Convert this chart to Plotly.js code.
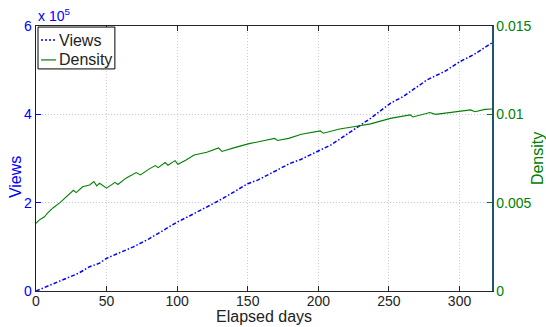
<!DOCTYPE html>
<html>
<head>
<meta charset="utf-8">
<script src="https://cdn.plot.ly/plotly-3.0.1.min.js"></script>
<style>html,body{margin:0;padding:0;background:#fff;}#chart{width:546px;height:327px;}</style>
</head>
<body>
<div id="chart"></div>
<script>
// Views series (elapsed day, views)
const viewDays = [0,10,20,30,38,45,50,60,69,80,90,100,110,120,128,140,150,157,170,180,187,200,209,218,225,230,237,245,251,260,270,277,290,300,310,323];
const viewValues = [0,13000,27000,40000,55000,63000,74000,87000,100000,118000,138000,156000,172000,188000,202000,224000,243000,251000,272000,289000,297000,317000,331000,350000,366000,376000,391000,410000,425000,440000,462000,478000,498000,519000,535000,562000];
// Density series (elapsed day, density)
const densDays = [0,2,4,6,8,12,17,22,26.5,28.5,33,38,41,43,45,50,56,58,64,71,74,80,84.5,86.5,91.5,93.5,98.5,100.5,106,112,121,129.3,131.7,140,151,161,169,171,179,188,201.4,203.5,215,225,230,237,251,259,265,267,279,283,292,300.7,307.8,311,318,323];
const densValues = [0.00383,0.0040,0.0041,0.0042,0.0044,0.0047,0.0050,0.0054,0.0057,0.00557,0.0059,0.0060,0.0062,0.00595,0.0061,0.00582,0.00615,0.00603,0.0064,0.0067,0.00657,0.0069,0.0071,0.00698,0.00727,0.00712,0.00738,0.00717,0.0074,0.0077,0.00785,0.0081,0.0079,0.0081,0.00834,0.0085,0.00864,0.00852,0.00864,0.00887,0.00906,0.00893,0.00917,0.0093,0.00936,0.00946,0.00977,0.0099,0.00997,0.00985,0.0101,0.0100,0.0101,0.01016,0.01025,0.01015,0.01028,0.0103];
const xTicks = [0,50,100,150,200,250,300];
const yTicks = [0,200000,400000,600000];
const yTickText = ['0','2','4','6'];
const y2Ticks = [0,0.005,0.01,0.015];
const y2TickText = ['0','0.005','0.01','0.015'];
const seriesNames = ['Views', 'Density'];

const FONT = 'Liberation Sans, Arial, Helvetica, sans-serif';
const VIEW_DASH = '4px,2px,1.5px,2px';
const traces = [
  {x: viewDays, y: viewValues, name: seriesNames[0], type: 'scatter', mode: 'lines',
   line: {color: '#0000ff', width: 1.5, dash: VIEW_DASH}, yaxis: 'y'},
  {x: densDays, y: densValues, name: seriesNames[1], type: 'scatter', mode: 'lines',
   line: {color: '#008000', width: 1.1}, yaxis: 'y2'}
];
// custom legend box (paper coordinates)
const legendShapes = [
  {type: 'rect', xref: 'paper', yref: 'paper', x0: 0.0044, x1: 0.173, y0: 0.838, y1: 0.996,
   fillcolor: '#ffffff', line: {color: '#000', width: 1}, layer: 'above'},
  {type: 'line', xref: 'paper', yref: 'paper', x0: 0.011, x1: 0.044, y0: 0.947, y1: 0.947,
   line: {color: '#0000ff', width: 1.5, dash: '2px,2px'}, layer: 'above'},
  {type: 'line', xref: 'paper', yref: 'paper', x0: 0.011, x1: 0.044, y0: 0.872, y1: 0.872,
   line: {color: '#008000', width: 1.2}, layer: 'above'}
];
const layout = {
  width: 546, height: 327,
  margin: {l: 36, r: 54, t: 26, b: 36, pad: 0},
  paper_bgcolor: '#ffffff', plot_bgcolor: '#ffffff',
  font: {family: FONT, size: 14, color: '#000'},
  showlegend: false,
  xaxis: {range: [0, 323], tickvals: xTicks, ticks: 'inside', ticklen: 5, tickcolor: '#222',
    showline: true, linecolor: '#262626', linewidth: 1, mirror: 'ticks', ticklabelstandoff: -3,
    showgrid: true, gridcolor: '#cfcfcf', griddash: '1px,2px', gridwidth: 1,
    zeroline: false, tickfont: {size: 14, color: '#222'}},
  yaxis: {range: [0, 600000], tickvals: yTicks, ticktext: yTickText, ticks: 'inside', ticklen: 5,
    tickcolor: '#0000ff', showline: true, linecolor: '#0000ff', linewidth: 1.5,
    showgrid: true, gridcolor: '#c4c4fa', griddash: '1px,2px', zeroline: false,
    tickfont: {size: 14, color: '#0000ff'}},
  yaxis2: {range: [0, 0.015], tickvals: y2Ticks, ticktext: y2TickText, overlaying: 'y', side: 'right',
    ticks: 'inside', ticklen: 5, tickcolor: '#008000', showline: true, linecolor: '#1d5570', linewidth: 1.5,
    showgrid: false, zeroline: false, tickfont: {size: 14, color: '#008000'}},
  shapes: legendShapes,
  annotations: [
    {text: seriesNames[0], xref: 'paper', yref: 'paper', x: 0.046, y: 0.947, xanchor: 'left', yanchor: 'middle',
     showarrow: false, font: {size: 16, color: '#222'}},
    {text: seriesNames[1], xref: 'paper', yref: 'paper', x: 0.046, y: 0.872, xanchor: 'left', yanchor: 'middle',
     showarrow: false, font: {size: 16, color: '#222'}},
    {text: 'Views', xref: 'paper', yref: 'paper', x: -0.046, y: 0.43, textangle: -90,
     showarrow: false, font: {size: 16, color: '#0000ff'}, xanchor: 'center', yanchor: 'middle'},
    {text: 'Density', xref: 'paper', yref: 'paper', x: 1.1, y: 0.5, textangle: -90,
     showarrow: false, font: {size: 16, color: '#008000'}, xanchor: 'center', yanchor: 'middle'},
    {text: 'Elapsed days', xref: 'paper', yref: 'paper', x: 0.5, y: -0.098, yanchor: 'middle',
     showarrow: false, font: {size: 16, color: '#222'}},
    {text: 'x 10<sup>5</sup>', xref: 'paper', yref: 'paper', x: 0.0, y: 1.0, xanchor: 'left', yanchor: 'bottom',
     showarrow: false, font: {size: 14, color: '#0000ff'}}
  ]
};
Plotly.newPlot('chart', traces, layout, {displayModeBar: false, staticPlot: true});
</script>
</body>
</html>
